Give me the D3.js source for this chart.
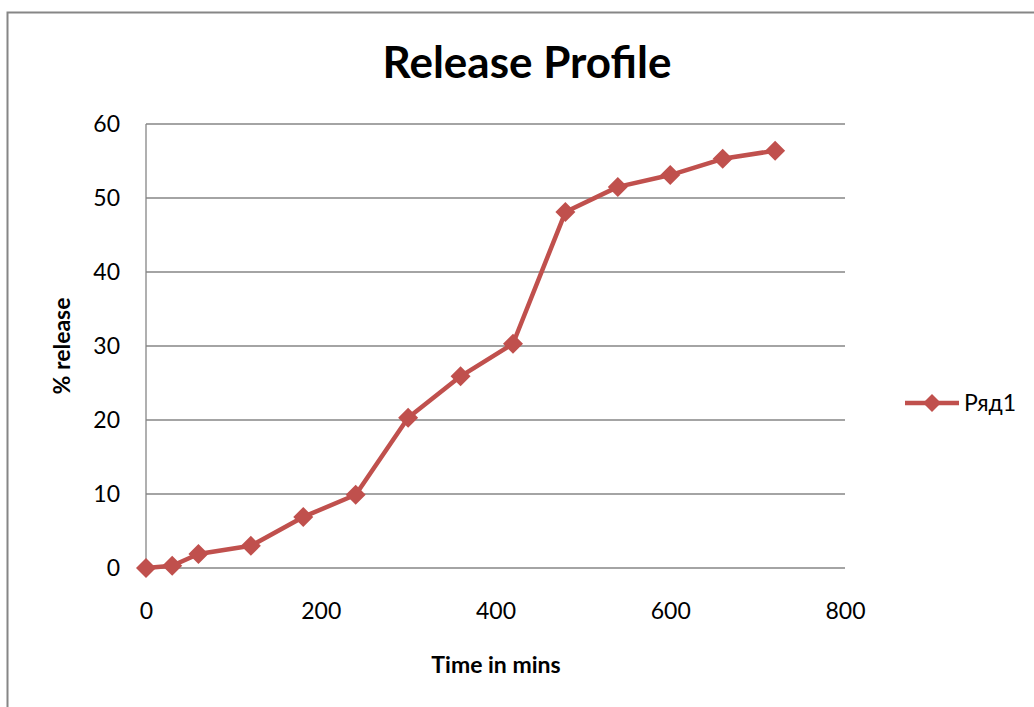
<!DOCTYPE html>
<html><head><meta charset="utf-8">
<script src="https://cdn.jsdelivr.net/npm/d3@7"></script>
<style>body{margin:0;background:#fff;}svg{display:block;font-family:Lato,"Open Sans",sans-serif;}</style>
</head><body>
<svg id="c" width="1034" height="707"></svg>
<script>
const times = [0, 30, 60, 120, 180, 240, 300, 360, 420, 480, 540, 600, 660, 720];
const release = [0, 0.3, 1.9, 3.0, 6.9, 9.9, 20.3, 25.9, 30.3, 48.1, 51.5, 53.1, 55.3, 56.4];
const xTicks = [0, 200, 400, 600, 800];
const yTicks = [0, 10, 20, 30, 40, 50, 60];
const seriesName = "Ряд1";
const color = "#c0504d";

const svg = d3.select("#c");
// outer chart frame
svg.append("rect").attr("x", 7.5).attr("y", 12.5).attr("width", 1040).attr("height", 720)
  .attr("fill", "none").attr("stroke", "#868686").attr("stroke-width", 2);

const x = d3.scaleLinear().domain([0, 800]).range([146, 845]);
const y = d3.scaleLinear().domain([0, 60]).range([568, 124]);

// gridlines
svg.append("g").selectAll("line").data(yTicks).join("line")
  .attr("x1", x(0)).attr("x2", x(800)).attr("y1", d => y(d)).attr("y2", d => y(d))
  .attr("stroke", "#868686").attr("stroke-width", 1.3);
// y axis line
svg.append("line").attr("x1", x(0)).attr("x2", x(0)).attr("y1", y(0)).attr("y2", y(60))
  .attr("stroke", "#868686").attr("stroke-width", 1.3);

// tick labels
const yAxis = d3.axisLeft(y).tickValues(yTicks).tickSize(0).tickPadding(26);
const gy = svg.append("g").attr("transform", `translate(${x(0)},0)`).call(yAxis);
gy.select(".domain").remove();
gy.selectAll("text").attr("font-size", 23).attr("fill", "#000").attr("font-family", "Lato,'Open Sans',sans-serif");

const xAxis = d3.axisBottom(x).tickValues(xTicks).tickSize(0).tickPadding(35);
const gx = svg.append("g").attr("transform", `translate(0,${y(0)})`).call(xAxis);
gx.select(".domain").remove();
gx.selectAll("text").attr("font-size", 23).attr("fill", "#000").attr("font-family", "Lato,'Open Sans',sans-serif");

// line
const data = times.map((t, i) => ({t, v: release[i]}));
svg.append("path").datum(data)
  .attr("d", d3.line().x(d => x(d.t)).y(d => y(d.v)))
  .attr("fill", "none").attr("stroke", color).attr("stroke-width", 4.5).attr("stroke-linejoin", "round");
svg.append("g").selectAll("path").data(data).join("path")
  .attr("transform", d => `translate(${x(d.t)},${y(d.v)})`)
  .attr("d", "M0,-10L10,0L0,10L-10,0Z")
  .attr("fill", color);

// title
svg.append("text").attr("x", 527).attr("y", 78).attr("text-anchor", "middle")
  .attr("font-size", 44).attr("font-weight", "bold").text("Release Profile");
// axis titles
svg.append("text").attr("x", 496).attr("y", 673).attr("text-anchor", "middle")
  .attr("font-size", 23).attr("font-weight", "bold").text("Time in mins");
svg.append("text").attr("transform", "translate(70,346) rotate(-90)").attr("text-anchor", "middle")
  .attr("font-size", 23).attr("font-weight", "bold").text("% release");

// legend
svg.append("line").attr("x1", 905).attr("x2", 959).attr("y1", 403).attr("y2", 403)
  .attr("stroke", color).attr("stroke-width", 4.5);
svg.append("path").attr("transform", "translate(932,403)").attr("d", "M0,-9L9,0L0,9L-9,0Z").attr("fill", color);
svg.append("text").attr("x", 964).attr("y", 411).attr("font-size", 23).text(seriesName);
</script>
</body></html>
